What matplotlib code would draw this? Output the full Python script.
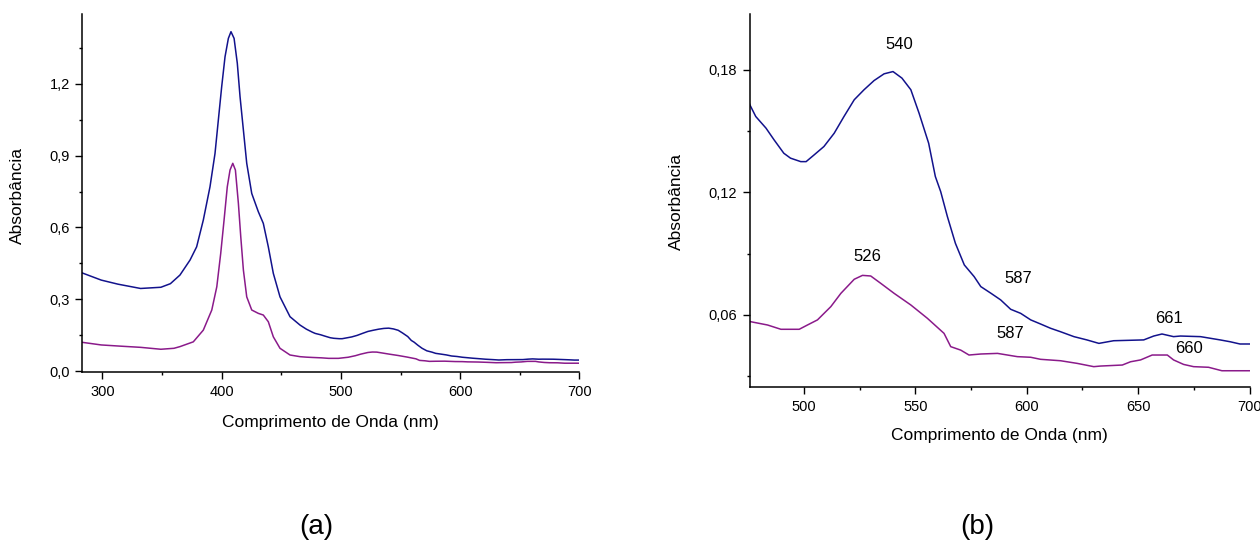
import matplotlib.pyplot as plt
from matplotlib.ticker import MultipleLocator, FuncFormatter

plt.rcParams['font.family'] = ['Liberation Sans', 'DejaVu Sans']

# espectros UV-Vis (nm, absorbância)
wl_azul = [283, 299, 313, 332, 349, 357, 365, 373.5, 379, 384.6, 390.2, 394.4,
           397.2, 400, 402.8, 405.6, 407.8, 410.4, 413.1, 415.4, 418.2, 421,
           425.2, 430.7, 434.9, 439.1, 443.3, 448.9, 457.3, 465.7, 471,
           476, 478.4, 483, 486.6, 491, 494, 498.6, 501, 504.6, 509, 513.6, 518,
           522.6, 527, 531.5, 536, 540, 544, 548, 551.7, 556, 559, 561.4, 564.4,
           568, 572, 576.4, 579.4, 584, 588.3, 592.8, 597.3, 601.8, 606.2, 610.7,
           615.2, 621.2, 627, 632.4, 639, 652.5, 657, 660.7, 665.9, 669, 678,
           686.8, 691.3, 695.7, 700]
abs_azul = [0.41, 0.38, 0.363, 0.345, 0.35, 0.365, 0.401, 0.464, 0.519, 0.631,
            0.770, 0.909, 1.049, 1.188, 1.313, 1.390, 1.418, 1.390, 1.286,
            1.146, 1.007, 0.868, 0.742, 0.666, 0.617, 0.519, 0.408, 0.310,
            0.227, 0.192, 0.175,
            0.1624, 0.1572, 0.1515, 0.1458, 0.1392, 0.1368, 0.1351, 0.1351,
            0.1384, 0.1425, 0.149, 0.1572, 0.1654, 0.1703, 0.1748, 0.1781,
            0.1792, 0.176, 0.1703, 0.1588, 0.1441, 0.1278, 0.1204, 0.1082,
            0.0951, 0.0845, 0.0788, 0.0739, 0.0706, 0.0674, 0.0628, 0.0608,
            0.0576, 0.0556, 0.0535, 0.0518, 0.0494, 0.0478, 0.0461, 0.0474,
            0.0478, 0.0497, 0.0507, 0.0494, 0.0497, 0.0494, 0.0478, 0.0469,
            0.0458, 0.0458]

wl_roxo = [283, 299, 315, 332, 349, 360, 365, 376.2, 384.6, 391.7, 395.9,
           399.2, 402, 404.7, 407, 409.3, 411.5, 414, 416, 418.2, 421, 425.2,
           430.7, 434.9, 439.1, 443.3, 448.9, 457.3, 465.7, 471,
           476.2, 483.7, 489.7, 497.9, 501.6, 506.1, 512.1, 516.6, 522.6, 526.3,
           530, 534.5, 540.5, 548, 555.4, 562.9, 565.9, 570.4, 574.1, 579.4,
           586.9, 595.8, 601.8, 606.2, 615.2, 622.7, 630.1, 633.1, 642.9, 646.6,
           651.1, 656.3, 663.1, 665.9, 670.4, 674.9, 681.6, 687.6, 700]
abs_roxo = [0.12, 0.109, 0.104, 0.099, 0.091, 0.095, 0.102, 0.122, 0.171,
            0.255, 0.352, 0.492, 0.631, 0.770, 0.840, 0.868, 0.840, 0.701,
            0.561, 0.422, 0.310, 0.255, 0.241, 0.234, 0.206, 0.143, 0.095,
            0.067, 0.060, 0.058,
            0.0567, 0.0551, 0.053, 0.053, 0.0551, 0.0576, 0.0641, 0.0706,
            0.0775, 0.0794, 0.0791, 0.0755, 0.0706, 0.0649, 0.0584, 0.051,
            0.0445, 0.0428, 0.0404, 0.0409, 0.0412, 0.0396, 0.0393, 0.0383,
            0.0376, 0.0363, 0.0347, 0.035, 0.0355, 0.0371, 0.038, 0.0404,
            0.0404, 0.038, 0.0358, 0.0347, 0.0344, 0.0327, 0.0327]

# picos marcados no detalhe (b)
picos_txt = ['540', '526', '587', '587', '661', '660']
picos_x = [542.6, 528.6, 596.2, 592.6, 663.8, 672.8]
picos_y = [0.1923, 0.0886, 0.078, 0.051, 0.0584, 0.0437]

AZUL = '#12128c'
ROXO = '#8a1a8a'


def virgula(casas):
    return FuncFormatter(lambda v, p: f'{v:.{casas}f}'.replace('.', ','))


def estilo(ax, ypad):
    for s in ['top', 'right']:
        ax.spines[s].set_visible(False)
    for s in ['left', 'bottom']:
        ax.spines[s].set_linewidth(1.1)
    ax.tick_params(which='major', direction='out', length=5, width=1.0,
                   labelsize=10.5)
    ax.tick_params(which='minor', direction='out', length=2.5, width=1.0)
    ax.tick_params(axis='x', pad=4.5)
    ax.tick_params(axis='y', pad=ypad)


fig = plt.figure(figsize=(12.6, 5.46), dpi=100)

# (a) espectro completo
ax1 = fig.add_axes([0.0651, 0.3187, 0.3948, 0.6557])
ax1.plot(wl_azul, abs_azul, color=AZUL, lw=1.1)
ax1.plot(wl_roxo, abs_roxo, color=ROXO, lw=1.1)
ax1.set_xlim(282.9, 700)
ax1.set_ylim(-0.004, 1.492)
ax1.xaxis.set_major_locator(MultipleLocator(100))
ax1.xaxis.set_minor_locator(MultipleLocator(50))
ax1.yaxis.set_major_locator(MultipleLocator(0.3))
ax1.yaxis.set_minor_locator(MultipleLocator(0.15))
ax1.yaxis.set_major_formatter(virgula(1))
estilo(ax1, 3.6)
ax1.set_xlabel('Comprimento de Onda (nm)', fontsize=12.5)
ax1.set_ylabel('Absorbância', fontsize=12.5)
ax1.xaxis.set_label_coords(0.5, -0.142)
ax1.xaxis.label.set_va('center')
ax1.yaxis.set_label_coords(-0.129, 0.493)
ax1.yaxis.label.set_va('center')

# (b) ampliação da região 476-700 nm
ax2 = fig.add_axes([0.5952, 0.2918, 0.3965, 0.6826])
ax2.plot(wl_azul, abs_azul, color=AZUL, lw=1.1)
ax2.plot(wl_roxo, abs_roxo, color=ROXO, lw=1.1)
ax2.set_xlim(475.8, 700)
ax2.set_ylim(0.0249, 0.2074)
ax2.xaxis.set_major_locator(MultipleLocator(50))
ax2.xaxis.set_minor_locator(MultipleLocator(25))
ax2.yaxis.set_major_locator(MultipleLocator(0.06))
ax2.yaxis.set_minor_locator(MultipleLocator(0.03))
ax2.yaxis.set_major_formatter(virgula(2))
estilo(ax2, 4.3)
ax2.set_xlabel('Comprimento de Onda (nm)', fontsize=12.5)
ax2.set_ylabel('Absorbância', fontsize=12.5)
ax2.xaxis.set_label_coords(0.5, -0.131)
ax2.xaxis.label.set_va('center')
ax2.yaxis.set_label_coords(-0.147, 0.496)
ax2.yaxis.label.set_va('center')

for t, x, y in zip(picos_txt, picos_x, picos_y):
    ax2.text(x, y, t, ha='center', va='center', fontsize=12)

fig.text(316 / 1260, 1 - 527 / 546, '(a)', ha='center', va='center', fontsize=20)
fig.text(977 / 1260, 1 - 527 / 546, '(b)', ha='center', va='center', fontsize=20)

fig.savefig('out.png', dpi=100)
